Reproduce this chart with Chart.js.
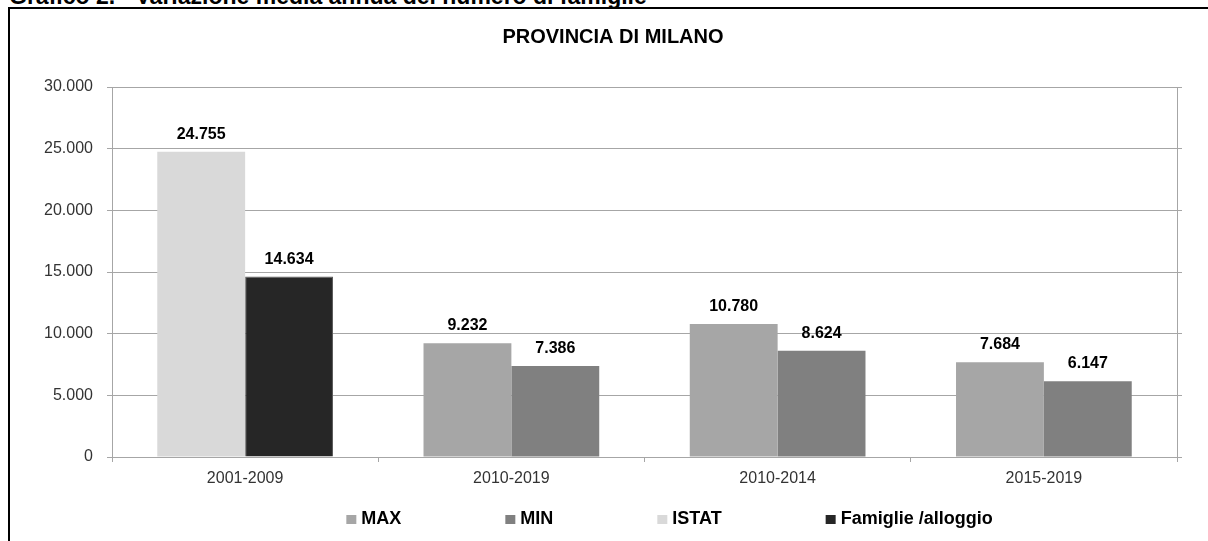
<!DOCTYPE html>
<html>
<head>
<meta charset="utf-8">
<script src="https://cdn.jsdelivr.net/npm/chart.js@4.4.1/dist/chart.umd.min.js"></script>
<style>
  html, body { margin: 0; padding: 0; background: #fff; overflow: hidden; }
  #page { position: relative; width: 1208px; height: 541px; overflow: hidden; }
  #heading { position: absolute; left: 9px; top: -15px; font: bold 23px/22px "Liberation Sans", Arial, sans-serif; white-space: nowrap; color: #000; }
  #frame { position: absolute; left: 8px; top: 7px; width: 1400px; height: 700px; border-left: 2px solid #000; border-top: 2px solid #000; }
  #chart { position: absolute; left: 0; top: 0; }
</style>
</head>
<body>
<div id="page">
  <div id="heading">Grafico 2. - Variazione media annua del numero di famiglie</div>
  <div id="frame"></div>
  <canvas id="chart" width="1208" height="541"></canvas>
</div>
<script>
// Data
const categories = ['2001-2009', '2010-2019', '2010-2014', '2015-2019'];
const maxValues = [null, 9232, 10780, 7684];
const minValues = [null, 7386, 8624, 6147];
const istatValues = [24755, null, null, null];
const famiglieValues = [14634, null, null, null];

const FONT = '"Liberation Sans", Arial, sans-serif';
const GRID = '#a6a6a6';

// 24755 -> "24.755"
function fmt(v) {
    return String(v).replace(/\B(?=(\d{3})+(?!\d))/g, '.');
}

// value labels above each bar
const dataLabels = {
    id: 'dataLabels',
    afterDatasetsDraw(chart) {
        const ctx = chart.ctx;
        ctx.save();
        ctx.font = 'bold 16px ' + FONT;
        ctx.fillStyle = '#000';
        ctx.textAlign = 'center';
        ctx.textBaseline = 'alphabetic';
        chart.data.datasets.forEach((ds, i) => {
            const meta = chart.getDatasetMeta(i);
            meta.data.forEach((bar, j) => {
                if (ds.data[j] == null) return;
                ctx.fillText(fmt(ds.data[j]), bar.x, bar.y - 13);
            });
        });
        ctx.restore();
    }
};

// legend drawn in one row with wide gaps, like the original
const wideLegend = {
    id: 'wideLegend',
    afterDraw(chart) {
        const ctx = chart.ctx;
        const area = chart.chartArea;
        const box = 10, gap = 5, spacing = 104;
        ctx.save();
        ctx.font = 'bold 18px ' + FONT;
        const items = chart.data.datasets.map(ds => ({
            text: ds.label,
            color: ds.backgroundColor,
            w: box + gap + ctx.measureText(ds.label).width
        }));
        const total = items.reduce((a, it) => a + it.w, 0) + spacing * (items.length - 1);
        let x = (area.left + area.right) / 2 - total / 2 + 25;
        const y = area.bottom + 62;
        ctx.textBaseline = 'middle';
        ctx.textAlign = 'left';
        items.forEach(it => {
            ctx.fillStyle = it.color;
            ctx.fillRect(x, y - box / 2 + 1, box, box - 1);
            ctx.fillStyle = '#000';
            ctx.fillText(it.text, x + box + gap, y);
            x += it.w + spacing;
        });
        ctx.restore();
    }
};

const ctx = document.getElementById('chart').getContext('2d');
new Chart(ctx, {
    type: 'bar',
    data: {
        labels: categories,
        datasets: [{
            label: 'MAX',
            data: maxValues,
            backgroundColor: '#a6a6a6',
            stack: 'left'
        }, {
            label: 'MIN',
            data: minValues,
            backgroundColor: '#808080',
            stack: 'right'
        }, {
            label: 'ISTAT',
            data: istatValues,
            backgroundColor: '#d9d9d9',
            stack: 'left'
        }, {
            label: 'Famiglie /alloggio',
            data: famiglieValues,
            backgroundColor: '#262626',
            borderColor: '#5a5a5a',
            borderWidth: 1,
            stack: 'right'
        }]
    },
    options: {
        responsive: false,
        animation: false,
        devicePixelRatio: 1,
        categoryPercentage: 0.66,
        barPercentage: 1,
        layout: { padding: { top: 10, left: 18, right: 0, bottom: 52 } },
        plugins: {
            legend: { display: false },
            tooltip: { enabled: false },
            title: {
                display: true,
                text: 'PROVINCIA DI MILANO',
                color: '#000',
                font: { family: FONT, size: 20, weight: 'bold' },
                padding: { top: 15, bottom: 38 }
            }
        },
        scales: {
            x: {
                stacked: true,
                grid: { display: true, drawOnChartArea: false, color: GRID, tickLength: 5 },
                border: { display: true, color: GRID },
                ticks: { color: '#333', font: { family: FONT, size: 16 }, padding: 7 },
                afterFit: s => { s.height = 32; }
            },
            y: {
                stacked: true,
                min: 0,
                max: 30000,
                grid: { color: GRID, tickLength: 5 },
                border: { display: true, color: GRID },
                ticks: {
                    stepSize: 5000,
                    color: '#333',
                    font: { family: FONT, size: 16 },
                    padding: 14,
                    callback: v => fmt(v)
                },
                afterFit: s => { s.width = 94; }
            },
            y2: {
                position: 'right',
                min: 0,
                max: 30000,
                grid: { drawOnChartArea: false, color: GRID, tickLength: 5 },
                border: { display: true, color: GRID },
                ticks: { stepSize: 5000, display: false },
                afterFit: s => { s.width = 31; }
            }
        }
    },
    plugins: [dataLabels, wideLegend]
});
</script>
</body>
</html>
